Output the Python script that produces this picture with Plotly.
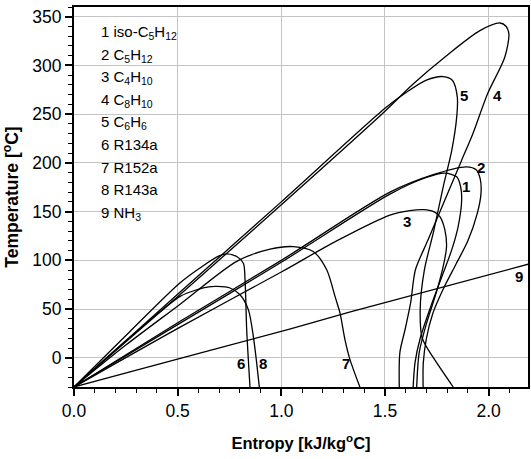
import plotly.graph_objects as go

# ---- data: saturation curves, entropy s [kJ/kg C] and temperature T [C] ----
s1 = [0, 0.512, 1.0, 1.524, 1.70, 1.789, 1.846, 1.865, 1.870, 1.853, 1.822, 1.781, 1.72, 1.67, 1.645, 1.636]
t1 = [-30, 35.5, 98, 168, 185, 189.5, 185.7, 175.5, 161.9, 134.6, 110.7, 86.9, 52, 20, -5, -30]

s2 = [0, 0.512, 1.0, 1.524, 1.733, 1.894, 1.94, 1.96, 1.963, 1.945, 1.90, 1.84, 1.78, 1.73, 1.70, 1.685, 1.684]
t2 = [-30, 37.5, 100, 170, 188, 196, 193, 183, 168, 148, 120, 95, 70, 45, 20, -5, -30]

s3 = [0, 0.512, 1.0, 1.267, 1.524, 1.62, 1.685, 1.735, 1.765, 1.789, 1.797, 1.781, 1.745, 1.70, 1.665, 1.653]
t3 = [-30, 31.5, 88, 120, 146.5, 151, 152, 150, 144.8, 131.2, 114, 93.7, 65, 35, 5, -30]

s4 = [0, 0.512, 1.0, 1.5, 1.636, 1.797, 1.958, 2.055, 2.085, 2.098, 2.078, 1.995, 1.924, 1.870, 1.789, 1.708, 1.647, 1.624, 1.597, 1.572, 1.569]
t4 = [-30, 65, 157, 253, 281, 310, 335.7, 343.6, 340, 332, 308.4, 271, 230, 202.8, 161.9, 121, 90.3, 56.5, 29, 5.4, -30]

s5 = [0, 0.512, 1.0, 1.5, 1.6, 1.70, 1.781, 1.826, 1.849, 1.846, 1.822, 1.781, 1.735, 1.69, 1.67, 1.68, 1.74, 1.829]
t5 = [-30, 67.5, 160, 256, 272, 285, 288.6, 284.6, 267.5, 247, 212.6, 175.5, 130, 90, 50, 20, -2, -30]

s6 = [0, 0.27, 0.512, 0.62, 0.70, 0.736, 0.785, 0.817, 0.825, 0.833, 0.849]
t6 = [-30, 27, 77, 94, 104.5, 106.6, 103.9, 97.1, 80, 29, -30]

s7 = [0, 0.25, 0.512, 0.785, 0.946, 1.058, 1.154, 1.219, 1.259, 1.283, 1.307, 1.331, 1.379]
t7 = [-30, 13, 55, 99, 111.5, 114.1, 109, 90.3, 63, 46, 18.7, -1.7, -30]

s8 = [0, 0.27, 0.512, 0.592, 0.65, 0.69, 0.753, 0.801, 0.841, 0.865, 0.881, 0.894]
t8 = [-30, 21, 63, 69.8, 72.8, 73.2, 71.6, 64.7, 49.4, 22, -5, -30]

s9 = [0, 0.27, 1.04, 1.333, 2.2]
t9 = [-30, -14.5, 29.5, 47, 96.5]

curve_s = [s1, s2, s3, s4, s5, s6, s7, s8, s9]
curve_t = [t1, t2, t3, t4, t5, t6, t7, t8, t9]

# curve number labels (text, s, T)
label_text = ["1", "2", "3", "4", "5", "6", "7", "8", "9"]
label_s = [1.89, 1.961, 1.608, 2.041, 1.881, 0.806, 1.311, 0.910, 2.147]
label_t = [176, 195.3, 139.7, 269.2, 269.2, -5.8, -5.8, -5.8, 83.4]

legend_lines = [
    "1 iso-C<sub>5</sub>H<sub>12</sub>",
    "2 C<sub>5</sub>H<sub>12</sub>",
    "3 C<sub>4</sub>H<sub>10</sub>",
    "4 C<sub>8</sub>H<sub>10</sub>",
    "5 C<sub>6</sub>H<sub>6</sub>",
    "6 R134a",
    "7 R152a",
    "8 R143a",
    "9 NH<sub>3</sub>",
]

FONT = "Liberation Sans, Arial, sans-serif"

fig = go.Figure()
for s, t in zip(curve_s, curve_t):
    fig.add_trace(go.Scatter(
        x=s, y=t, mode="lines",
        line=dict(color="black", width=1.3, shape="spline", smoothing=0.8),
        showlegend=False, hoverinfo="skip",
    ))

annotations = []
for txt, sx, ty in zip(label_text, label_s, label_t):
    annotations.append(dict(
        x=sx, y=ty, xref="x", yref="y", text="<b>" + txt + "</b>", showarrow=False,
        font=dict(family=FONT, size=15, color="black"),
        xanchor="center", yanchor="middle",
    ))

# legend text block (top-left, inside plot)
plot_top, plot_bottom = 7, 387
for i, line in enumerate(legend_lines):
    baseline = 38.0 + i * 22.6
    top_px = baseline - 16.0
    annotations.append(dict(
        x=(100 - 74) / 454, y=(plot_bottom - top_px) / (plot_bottom - plot_top),
        xref="paper", yref="paper", text=line, showarrow=False,
        font=dict(family=FONT, size=15, color="black"),
        xanchor="left", yanchor="top", borderpad=0,
    ))

axis_common = dict(
    showgrid=True, gridcolor="#c4c4c4", gridwidth=1,
    showline=True, linecolor="black", linewidth=2, mirror=True,
    ticks="outside", ticklen=7, tickwidth=1.5, tickcolor="black",
    tickfont=dict(family=FONT, size=17.5, color="black"),
    zeroline=False, automargin=False,
)

fig.update_layout(
    width=531, height=459,
    margin=dict(l=74, r=3, t=7, b=72),
    paper_bgcolor="white", plot_bgcolor="white",
    annotations=annotations,
    xaxis=dict(
        range=[0, 2.19], tick0=0, dtick=0.5, tickformat=".1f",
        minor=dict(dtick=0.1, ticks="outside", ticklen=4, tickwidth=1.2, tickcolor="black", showgrid=False),
        title=dict(text="<b>Entropy [kJ/kg<sup>o</sup>C]</b>", font=dict(family=FONT, size=16.5, color="black"), standoff=17),
        **axis_common,
    ),
    yaxis=dict(
        range=[-30, 360], tick0=0, dtick=50,
        minor=dict(dtick=10, ticks="outside", ticklen=4, tickwidth=1.2, tickcolor="black", showgrid=False),
        title=dict(text="<b>Temperature [<sup>o</sup>C]</b>", font=dict(family=FONT, size=17.5, color="black"), standoff=11),
        **axis_common,
    ),
)

fig.write_html(
    "out.html",
    config={"displayModeBar": False},
    post_script="document.body.style.margin='0px';document.body.style.overflow='hidden';",
)
